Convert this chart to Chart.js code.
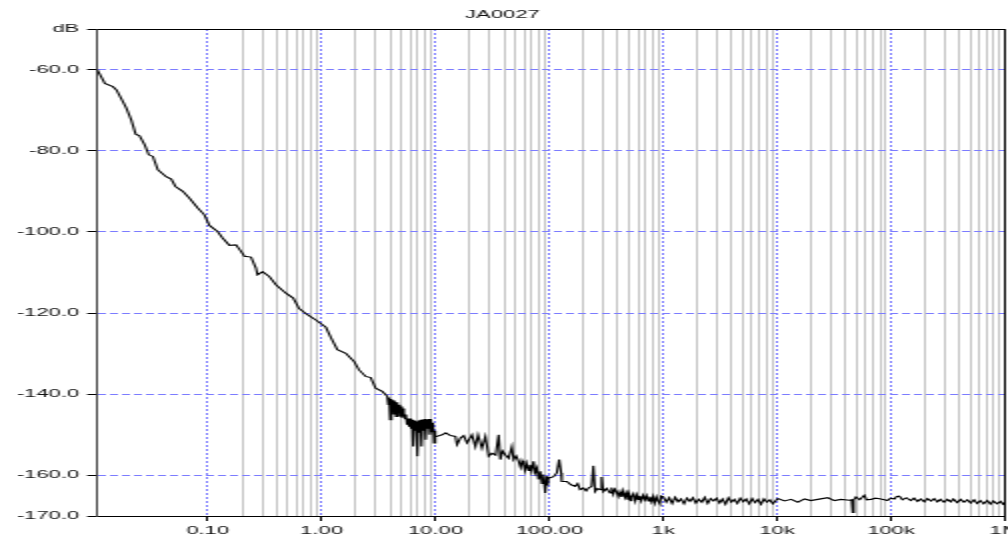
<!DOCTYPE html>
<html>
<head>
<meta charset="utf-8">
<script src="https://cdn.jsdelivr.net/npm/chart.js@4/dist/chart.umd.min.js"></script>
<style>
  html, body { margin: 0; padding: 0; background: #fff; overflow: hidden; }
  #plot { display: block; width: 1008px !important; height: 541px !important; }
</style>
</head>
<body>
<canvas id="plot" width="504" height="541" style="width:1008px;height:541px"></canvas>
<script>
// Noise spectrum JA0027: level in dB against frequency (log axis)
const chartTitle = 'JA0027';

const freqHz = [
  0.0107, 0.0125, 0.0147, 0.0158, 0.018, 0.0193, 0.0213, 0.0233, 0.0252, 0.0279,
  0.0304, 0.033, 0.0365, 0.0432, 0.0478, 0.0521, 0.0604, 0.0692, 0.0817, 0.0935,
  0.1035, 0.122, 0.135, 0.155, 0.177, 0.196, 0.21, 0.24, 0.265, 0.274,
  0.303, 0.347, 0.397, 0.486, 0.563, 0.635, 0.751, 0.89, 1.09, 1.204,
  1.375, 1.629, 1.926, 2.13, 2.438, 2.697, 2.982, 3.407, 3.77,
  3.85, 3.92, 4.0, 4.07, 4.14, 4.22, 4.31, 4.4, 4.5, 4.58,
  4.67, 4.77, 4.87, 4.97, 5.07, 5.17, 5.28, 5.38, 5.5, 5.62,
  5.74, 5.86, 5.98, 6.1, 6.24, 6.37, 6.5, 6.64, 6.78, 6.93,
  7.07, 7.22, 7.38, 7.54, 7.7, 7.86, 8.03, 8.2, 8.38, 8.56,
  8.74, 8.93, 9.12, 9.32, 9.52, 9.72, 9.9, 10.0,
  11.43, 12.3, 13.53, 14.97, 15.46, 16.55, 17.69, 18.91, 20.92, 22.4,
  23.61, 25.59, 27.41, 29.3, 31.3, 33.73, 35.84, 37.09, 38.8, 41.02,
  43.85, 46.86, 48.5, 51, 53.63, 55.8, 57.5, 59.33, 61, 62.95,
  65.61, 67.5, 69.66, 72.56, 75, 77.58, 80.29, 83.08, 86.1, 88.81,
  91.89, 94.9, 96.5, 98.2, 108.6, 116.1, 121.8, 126.9, 128.4, 142,
  155, 168.2, 177, 186.1, 198.9, 210, 220, 235.1, 243.3, 251.8,
  265, 278.5, 287.6, 297.7, 318, 340.7, 352, 364, 376, 389.2,
  403, 416.9, 431, 445.6, 460, 476, 489, 502, 514, 526.6,
  547, 567.5, 585, 602.7, 621, 640, 665, 690.2, 713, 737.7,
  762, 788.6, 815, 841, 871, 902.2, 933, 958.5,
  1000, 1062, 1127, 1197, 1271, 1349, 1432, 1521, 1614, 1714,
  1820, 1932, 2051, 2178, 2312, 2455, 2606, 2767, 2938, 3119,
  3311, 3515, 3732, 3963, 4207, 4467, 4742, 5035, 5346, 5675,
  6026, 6397, 6792, 7211, 7656, 8128, 8630, 9162, 9727,
  10140, 11610, 13260, 15180, 17380, 19720, 22720, 27800, 31810, 36340,
  43050, 45080, 46020, 46990, 49180, 52970, 58250, 61030, 66540, 73110,
  81420, 93200, 99000,
  106700, 112000, 118000, 126100, 136000, 149100, 159000, 171000, 182400, 196000,
  208700, 225000, 238900, 255000, 271400, 292000, 312400, 334000, 352400, 380000,
  408600, 437000, 467700, 500000, 535300, 570000, 608100, 650000, 699800, 745000,
  790000, 850000, 915400, 960000, 1000000
];

const levelDb = [
  -60, -63.4, -64.2, -65, -67.9, -69.5, -72.4, -75.9, -76.3, -78.5,
  -81, -81.4, -84.7, -86.4, -87, -88.8, -90, -91.7, -94.1, -95.8,
  -98.4, -99.9, -101.5, -103.3, -103.2, -104.8, -106, -106.2, -108.9, -110.6,
  -109.8, -111, -113, -115.1, -116.3, -118.9, -120.4, -121.7, -123.5, -126.0,
  -129.0, -129.9, -131.9, -134.0, -135.6, -135.9, -138.5, -139.3, -140.5,
  -142.5, -140.8, -146.3, -141.2, -143.5, -141.5, -145.0, -141.8, -145.5, -142.0,
  -144.0, -142.6, -145.5, -143.0, -145.8, -143.5, -144.6, -146.0, -145.0, -147.5,
  -146.0, -148.0, -146.0, -148.5, -146.3, -152.9, -146.5, -149.0, -146.8, -155.3,
  -146.5, -149.5, -146.3, -152.9, -146.2, -149.0, -146.1, -151.2, -146.2, -148.5,
  -146.1, -150.0, -146.1, -149.2, -147.0, -152.0, -149.0, -150.5,
  -150.0, -149.5, -150.2, -150.4, -152.4, -150.8, -150.2, -152.0, -150.0, -152.9,
  -150.0, -153.3, -150.4, -155.3, -154.5, -155.0, -150.0, -156.1, -154.0, -154.9,
  -155.8, -152.9, -156.1, -155.2, -156.5, -158.0, -156.4, -157.4, -158.8, -157.0,
  -158.8, -157.4, -159.0, -156.5, -159.3, -158.2, -161.0, -159.0, -162.0, -159.8,
  -164.3, -160.2, -162.5, -160.7, -160.3, -159.4, -156.1, -159.4, -161.5, -161.5,
  -162.3, -162.7, -162.0, -163.5, -163.1, -163.8, -163.1, -162.7, -157.6, -164.0,
  -163.2, -163.5, -160.4, -164.0, -163.2, -164.3, -163.0, -164.6, -163.4, -164.0,
  -165.2, -164.0, -165.3, -163.8, -165.4, -164.3, -166.0, -164.6, -166.2, -165.3,
  -164.5, -166.3, -164.8, -165.9, -165.0, -166.3, -164.9, -166.0, -165.0, -166.3,
  -165.2, -166.5, -165.2, -166.8, -165.3, -166.4, -167.0, -165.1,
  -165.3, -166.6, -165.5, -166.9, -165.4, -166.5, -165.8, -167.0, -165.6, -166.4,
  -165.5, -166.8, -165.9, -166.6, -165.4, -166.9, -165.7, -166.3, -165.6, -166.8,
  -165.8, -167.1, -165.5, -166.6, -165.9, -166.9, -165.6, -166.5, -165.8, -167.0,
  -165.7, -166.7, -165.9, -167.1, -165.8, -166.6, -166.0, -167.0, -166.2,
  -165.7, -166.3, -165.9, -166.6, -165.8, -166.2, -165.9, -165.5, -166.2, -165.9,
  -166.1, -166.0, -169.1, -166.0, -165.3, -166.0, -164.9, -166.0, -165.9, -165.6,
  -165.8, -166.2, -165.6,
  -165.8, -165.2, -165.1, -166.0, -165.5, -166.2, -165.6, -166.4, -165.8, -166.5,
  -165.7, -166.3, -165.7, -166.5, -165.9, -166.6, -165.9, -166.5, -165.8, -166.7,
  -165.9, -166.6, -166.0, -166.8, -166.0, -166.9, -166.2, -167.0, -166.2, -167.1,
  -166.3, -167.0, -166.4, -167.1, -166.6
];

// Axis range and tick labelling
const freqMin = 0.0107;
const freqMax = 1e6;
const decadeTicks = [0.1, 1, 10, 100, 1e3, 1e4, 1e5, 1e6];
const decadeLabels = ['0.10', '1.00', '10.00', '100.00', '1k', '10k', '100k', '1M'];
const minorSteps = [2, 3, 4, 5, 6, 7, 8, 9];
const levelMin = -170;
const levelMax = -50;
const levelTicks = [-50, -60, -80, -100, -120, -140, -160, -170];
const levelLabels = ['dB', '-60.0', '-80.0', '-100.0', '-120.0', '-140.0', '-160.0', '-170.0'];

const labelFont = { family: '"Liberation Sans", Arial, sans-serif', size: 11 };
const textColor = '#111';
const majorGrid = '#7c7cff';
const minorGrid = '#c4c4c4';

const points = freqHz.map((f, i) => ({ x: f, y: levelDb[i] }));

// Closes the plot frame on the top and right sides
const framePlugin = {
  id: 'frame',
  afterDatasetsDraw(chart) {
    const { ctx, chartArea: a } = chart;
    ctx.save();
    ctx.strokeStyle = '#000';
    ctx.lineWidth = 1;
    ctx.beginPath();
    ctx.moveTo(a.left, Math.round(a.top) + 0.5);
    ctx.lineTo(a.right, Math.round(a.top) + 0.5);
    ctx.moveTo(a.right, a.top);
    ctx.lineTo(a.right, a.bottom);
    ctx.stroke();
    ctx.restore();
  }
};

new Chart(document.getElementById('plot'), {
  type: 'line',
  data: {
    datasets: [{
      data: points,
      borderColor: '#000',
      borderWidth: 1.1,
      pointRadius: 0,
      tension: 0,
      fill: false
    }]
  },
  plugins: [framePlugin],
  options: {
    responsive: false,
    devicePixelRatio: 1,
    animation: false,
    events: [],
    layout: { padding: { left: 0, right: 1.5, top: 0, bottom: 0 } },
    plugins: {
      legend: { display: false },
      tooltip: { enabled: false },
      title: {
        display: true,
        text: chartTitle,
        color: textColor,
        font: { family: labelFont.family, size: 11, weight: 'normal' },
        padding: { top: 8, bottom: 7.8 }
      }
    },
    scales: {
      x: {
        type: 'logarithmic',
        min: freqMin,
        max: freqMax,
        bounds: 'data',
        afterBuildTicks(scale) {
          const vals = decadeTicks.slice();
          decadeTicks.slice(0, -1).forEach(d => minorSteps.forEach(m => vals.push(m * d)));
          vals.sort((a, b) => a - b);
          scale.ticks = vals.map(v => ({ value: v, major: decadeTicks.includes(v) }));
        },
        afterFit(scale) {
          scale.height = 25;
          scale.paddingLeft = 0;
          scale.paddingRight = 0;
        },
        ticks: {
          autoSkip: false,
          maxRotation: 0,
          minRotation: 0,
          padding: 3,
          color: textColor,
          font: labelFont,
          callback(value, index, ticks) {
            const k = decadeTicks.indexOf(ticks[index].value);
            return k >= 0 ? decadeLabels[k] : '';
          }
        },
        grid: {
          color: c => (c.tick && c.tick.major ? majorGrid : minorGrid),
          lineWidth: 1,
          tickLength: 5,
          tickColor: c => (c.tick && c.tick.major ? '#000' : 'rgba(0,0,0,0)'),
          tickWidth: 1
        },
        border: {
          display: true,
          color: '#000',
          width: 1,
          dash: c => (c.tick && c.tick.major ? [2, 2] : [])
        }
      },
      y: {
        type: 'linear',
        min: levelMin,
        max: levelMax,
        bounds: 'data',
        afterBuildTicks(scale) {
          scale.ticks = levelTicks.map(v => ({ value: v }));
        },
        afterFit(scale) {
          scale.width = 48.6;
        },
        ticks: {
          padding: 4,
          color: textColor,
          font: labelFont,
          callback(value, index, ticks) {
            const k = levelTicks.indexOf(ticks[index].value);
            return k >= 0 ? levelLabels[k] : '';
          }
        },
        grid: {
          color: c => (c.tick && (c.tick.value === levelMin || c.tick.value === levelMax) ? 'rgba(0,0,0,0)' : majorGrid),
          lineWidth: 1,
          tickLength: 5,
          tickColor: '#000',
          tickWidth: 1
        },
        border: {
          display: true,
          color: '#444',
          width: 1,
          dash: c => (c.tick ? [4, 2] : [])
        }
      }
    }
  }
});
</script>
</body>
</html>
